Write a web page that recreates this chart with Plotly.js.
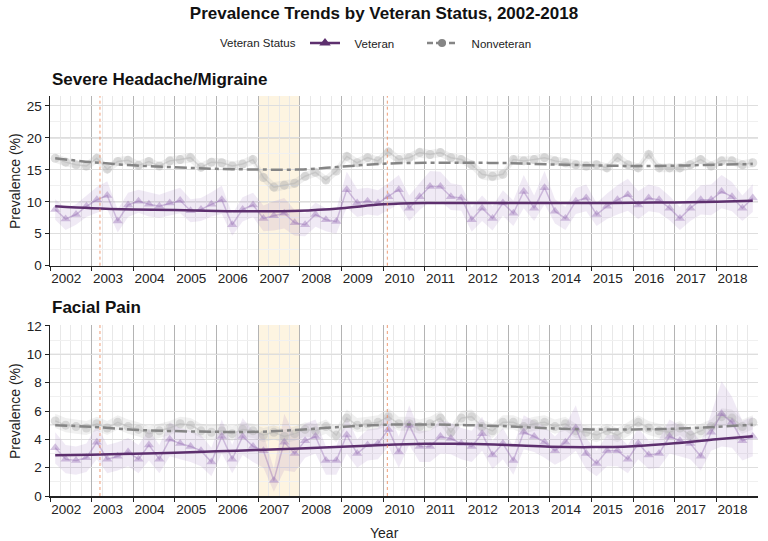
<!DOCTYPE html>
<html>
<head>
<meta charset="utf-8">
<script src="https://cdn.plot.ly/plotly-3.0.1.min.js"></script>
<style>html,body{margin:0;padding:0;background:#fff;}#chart{width:768px;height:541px;}</style>
</head>
<body>
<div id="chart"></div>
<script>
// ---------- DATA ----------
const years = [2002,2003,2004,2005,2006,2007,2008,2009,2010,2011,2012,2013,2014,2015,2016,2017,2018];
const quarterOffsets = [0.125, 0.375, 0.625, 0.875];
const tickYears = years;

// Severe Headache/Migraine
const headVet = [
  8.8,7.3,8.0,9.3,  10.3,11.0,7.0,9.5,  10.1,9.6,9.3,9.8,  10.2,8.6,8.8,9.6,
  10.3,6.4,8.8,9.5,  7.4,7.8,8.2,6.7,  6.4,8.0,7.2,6.9,  11.9,9.8,10.1,9.8,
  10.8,11.9,9.0,10.8,  12.4,12.4,10.8,10.6,  7.2,9.0,7.4,9.8,  8.2,11.6,9.0,12.2,
  8.5,7.4,10.1,10.6,  8.0,9.3,10.3,11.1,  9.5,10.6,10.3,9.0,  7.4,9.0,10.3,10.3,
  11.6,10.8,9.0,10.6];
const headVetHW = [
  1.6,1.7,1.6,1.7, 2.0,2.2,1.8,1.9, 1.8,1.9,1.8,1.9, 2.0,1.8,1.8,1.9,
  2.2,1.7,1.9,1.9, 2.0,2.3,2.4,2.0, 1.8,1.9,1.8,1.9, 2.8,2.2,2.1,2.0,
  2.1,2.3,2.0,2.1, 2.4,2.3,2.1,2.0, 1.9,2.0,1.9,2.0, 2.0,2.6,2.0,2.6,
  1.9,1.8,2.0,2.1, 1.8,2.0,2.3,2.5, 2.2,2.1,2.0,1.9, 1.8,2.0,2.3,2.4,
  2.6,2.3,2.0,2.2];
const headNon = [
  16.8,16.2,15.8,15.6,  16.8,15.1,16.3,16.5,  15.7,16.3,15.6,16.4,  16.6,16.9,15.4,16.2,
  16.1,15.6,15.9,16.6,  13.8,12.3,12.6,12.9,  14.0,14.6,13.4,14.8,  17.1,16.1,16.9,16.4,
  17.8,16.6,16.9,17.7,  17.4,17.7,16.9,16.6,  15.8,14.3,14.0,14.3,  16.6,16.4,16.6,16.9,
  16.4,16.1,15.8,15.6,  15.8,15.3,16.9,15.8,  15.3,17.4,15.3,15.3,  15.3,15.8,16.6,15.6,
  16.4,16.4,15.8,16.1];
const headNonHW = [
  0.7,0.7,0.6,0.7, 0.8,0.7,0.7,0.7, 0.7,0.7,0.6,0.7, 0.7,0.8,0.7,0.7,
  0.7,0.7,0.7,0.8, 0.8,0.8,0.7,0.7, 0.7,0.7,0.7,0.7, 0.8,0.7,0.7,0.7,
  0.8,0.7,0.7,0.8, 0.7,0.7,0.7,0.7, 0.7,0.8,0.8,0.7, 0.7,0.7,0.7,0.7,
  0.7,0.7,0.7,0.7, 0.7,0.7,0.8,0.7, 0.7,0.8,0.7,0.7, 0.7,0.7,0.7,0.7,
  0.7,0.7,0.7,0.7];
const trendX = [2002.125,2003,2004,2005,2006,2007,2008,2009,2010,2011,2012,2013,2014,2015,2016,2017,2018,2018.875];
const headVetTrend = [9.3,9.0,8.8,8.7,8.55,8.5,8.6,9.0,9.6,9.8,9.8,9.8,9.8,9.8,9.85,9.9,10.0,10.15];
const headNonTrend = [16.8,16.2,15.7,15.4,15.15,15.05,15.05,15.5,15.95,16.1,16.1,16.05,15.85,15.7,15.6,15.65,15.8,15.9];

// Facial Pain
const faceVet = [
  3.4,2.6,2.5,2.7,  3.8,2.6,2.8,3.1,  2.6,3.6,2.6,4.0,  3.7,3.5,3.2,2.4,
  4.2,2.6,4.2,3.5,  3.2,1.1,3.8,3.0,  3.9,4.2,2.5,2.5,  4.3,3.0,3.6,3.7,
  4.7,3.1,5.0,3.5,  3.5,4.2,4.05,3.7,  3.5,4.4,2.9,3.7,  2.5,4.5,4.2,3.8,
  3.2,3.8,4.8,3.0,  2.3,3.2,3.2,2.6,  3.7,2.9,3.0,4.2,  3.9,3.7,2.8,4.5,
  5.8,5.2,3.9,4.2];
const faceVetHW = [
  1.1,1.0,1.0,1.0, 1.2,1.0,1.0,1.0, 1.0,1.1,1.0,1.2, 1.1,1.1,1.1,1.0,
  1.2,1.0,1.3,1.1, 1.2,0.8,2.0,1.3, 1.2,1.2,1.0,1.0, 1.3,1.0,1.1,1.1,
  1.2,1.1,1.4,1.1, 1.1,1.2,1.1,1.1, 1.1,1.2,1.0,1.1, 1.0,1.2,1.1,1.1,
  1.0,1.2,1.6,1.1, 0.9,1.1,1.1,1.0, 1.1,1.0,1.0,1.2, 1.1,1.1,1.0,1.3,
  2.3,1.8,1.4,1.4];
const faceNon = [
  5.3,5.0,4.9,4.8,  5.1,4.8,5.2,4.9,  4.7,4.4,4.6,4.8,  5.1,5.0,4.6,4.5,
  4.6,4.4,4.7,4.6,  4.3,4.5,4.2,4.4,  4.7,4.6,4.9,4.3,  5.5,5.0,5.1,5.2,
  5.6,5.1,5.1,4.9,  5.1,5.5,4.5,5.5,  5.6,4.9,4.6,5.2,  5.2,4.9,5.1,5.2,
  4.9,5.1,4.6,4.5,  4.3,4.6,4.3,4.7,  5.2,4.8,4.6,4.5,  4.8,4.3,4.6,4.9,
  5.6,5.5,4.9,5.2];
const faceNonHW = [
  0.5,0.5,0.5,0.5, 0.5,0.5,0.5,0.5, 0.5,0.5,0.5,0.5, 0.5,0.5,0.5,0.5,
  0.5,0.5,0.5,0.5, 0.5,0.5,0.5,0.5, 0.5,0.5,0.5,0.5, 0.6,0.5,0.5,0.5,
  0.6,0.5,0.5,0.5, 0.5,0.5,0.5,0.5, 0.5,0.5,0.5,0.5, 0.5,0.5,0.5,0.5,
  0.5,0.5,0.5,0.5, 0.5,0.5,0.5,0.5, 0.5,0.5,0.5,0.5, 0.5,0.5,0.5,0.5,
  0.6,0.6,0.5,0.5];
const faceVetTrend = [2.88,2.92,2.98,3.05,3.15,3.25,3.35,3.47,3.6,3.68,3.68,3.6,3.48,3.45,3.52,3.72,4.0,4.22];
const faceNonTrend = [5.0,4.88,4.68,4.58,4.53,4.53,4.68,4.88,5.03,5.05,5.0,4.92,4.78,4.7,4.7,4.75,4.88,5.03];

// Reference marks
const shadeStart = [2007], shadeEnd = [2008];
const eventLines = [2003.2, 2010.1];
const headRefLines = [10, 20];
const faceRefLines = [5, 10];

// ---------- BUILD ----------
const xq = [];
years.forEach(y => quarterOffsets.forEach(o => xq.push(y + o)));

const VET = '#5d2f6e', VET_PT = 'rgba(150,110,180,0.4)', VET_BAND = 'rgba(160,125,190,0.16)';
const NON = '#858585', NON_PT = 'rgba(175,175,175,0.4)', NON_BAND = 'rgba(180,180,180,0.2)';
const NONDASH = '12px,4px,4px,4px';

function band(vals, hw, col, xa, ya) {
  const up = vals.map((v,i)=>v+hw[i]);
  const lo = vals.map((v,i)=>Math.max(0, v-hw[i]));
  return {x: xq.concat(xq.slice().reverse()), y: up.concat(lo.slice().reverse()),
    fill:'toself', fillcolor: col, line:{width:0}, mode:'lines', hoverinfo:'skip',
    showlegend:false, xaxis:xa, yaxis:ya};
}
function pts(vals, sym, col, xa, ya) {
  return {x: xq, y: vals, mode:'lines+markers', line:{color:col, width:1.5},
    marker:{symbol:sym, size:9, color:col}, showlegend:false, xaxis:xa, yaxis:ya};
}
function trend(vals, col, dash, xa, ya) {
  return {x: trendX, y: vals, mode:'lines', line:{color:col, width:2.5, dash:dash, shape:'spline', smoothing:1},
    showlegend:false, xaxis:xa, yaxis:ya};
}

const traces = [
  band(headNon, headNonHW, NON_BAND, 'x', 'y'),
  band(headVet, headVetHW, VET_BAND, 'x', 'y'),
  pts(headNon, 'circle', NON_PT, 'x', 'y'),
  pts(headVet, 'triangle-up', VET_PT, 'x', 'y'),
  trend(headNonTrend, NON, NONDASH, 'x', 'y'),
  trend(headVetTrend, VET, 'solid', 'x', 'y'),
  band(faceNon, faceNonHW, NON_BAND, 'x2', 'y2'),
  band(faceVet, faceVetHW, VET_BAND, 'x2', 'y2'),
  pts(faceNon, 'circle', NON_PT, 'x2', 'y2'),
  pts(faceVet, 'triangle-up', VET_PT, 'x2', 'y2'),
  trend(faceNonTrend, NON, NONDASH, 'x2', 'y2'),
  trend(faceVetTrend, VET, 'solid', 'x2', 'y2'),
  // legend entries
  {x:[null], y:[null], name:'   Veteran', mode:'lines+markers', line:{color:VET, width:2.5},
   marker:{symbol:'triangle-up', size:10, color:VET}, xaxis:'x', yaxis:'y'},
  {x:[null], y:[null], name:'   Nonveteran', mode:'lines+markers', line:{color:NON, width:2.5, dash:'6px,3px,10px,3px'},
   marker:{symbol:'circle', size:8, color:NON}, xaxis:'x', yaxis:'y'}
];

const FONT = 'Liberation Sans, Arial, sans-serif';
function xax(anchor) {
  return {anchor: anchor, range:[2002, 2019], tickvals: tickYears, ticktext: tickYears.map(String),
    ticklabelposition:'outside right', ticks:'outside', ticklen:4, tickcolor:'#222',
    showline:true, linecolor:'#222', linewidth:1.5, zeroline:false,
    showgrid:true, gridcolor:'#b4b4b4', gridwidth:1,
    minor:{dtick:0.25, tick0:2002, showgrid:true, gridcolor:'#e8e8e8', gridwidth:1},
    tickfont:{size:13.5, color:'#222', family:FONT}, fixedrange:true};
}
function yax(anchor, range, dtick, domain) {
  return {anchor: anchor, range: range, domain: domain, dtick: dtick, tick0:0,
    ticks:'outside', ticklen:4, tickcolor:'#222', showline:true, linecolor:'#222', linewidth:1.5,
    zeroline:false, showgrid:true, gridcolor:'#dedede', gridwidth:1,
    minor:{dtick: dtick/2, showgrid:true, gridcolor:'#f0f0f0', gridwidth:1},
    tickfont:{size:13.5, color:'#222', family:FONT}, fixedrange:true};
}

const shapes = [];
shadeStart.forEach((s,i)=>{
  ['x','x2'].forEach((xa,k)=>{
    shapes.push({type:'rect', layer:'below', xref:xa, yref:(k?'y2 domain':'y domain'), x0:s, x1:shadeEnd[i], y0:0, y1:1,
      fillcolor:'#fcf1d9', line:{width:0}, opacity:0.8});
  });
});
headRefLines.forEach(v=>shapes.push({type:'line', layer:'below', xref:'x domain', yref:'y', x0:0, x1:1, y0:v, y1:v, line:{color:'#b4b4b4', width:1}}));
faceRefLines.forEach(v=>shapes.push({type:'line', layer:'below', xref:'x2 domain', yref:'y2', x0:0, x1:1, y0:v, y1:v, line:{color:'#b4b4b4', width:1}}));
eventLines.forEach(v=>{
  shapes.push({type:'line', layer:'above', xref:'x', yref:'y domain', x0:v, x1:v, y0:0, y1:1, line:{color:'rgba(236,140,95,0.85)', width:1, dash:'dot'}});
  shapes.push({type:'line', layer:'above', xref:'x2', yref:'y2 domain', x0:v, x1:v, y0:0, y1:1, line:{color:'rgba(236,140,95,0.85)', width:1, dash:'dot'}});
});

const layout = {
  width:768, height:541, margin:{l:50, r:10, t:96, b:45},
  paper_bgcolor:'#fff', plot_bgcolor:'#fff',
  font:{family:FONT, color:'#222'},
  title:{text:'<b>Prevalence Trends by Veteran Status, 2002-2018</b>', font:{size:17, color:'#111', family:FONT},
    x:0.5, xref:'container', xanchor:'center', y:1-13/541, yref:'container', yanchor:'middle'},
  xaxis: xax('y'),
  yaxis: yax('x', [0, 26.55], 5, [0.5758, 1]),
  xaxis2: xax('y2'),
  yaxis2: yax('x2', [0, 12.07], 2, [0, 0.4275]),
  showlegend:true,
  legend:{orientation:'h', xref:'container', yref:'container', x:305/768, xanchor:'left', y:1-43/541, yanchor:'middle',
    font:{size:11.5, color:'#222', family:FONT},
    bgcolor:'rgba(0,0,0,0)', entrywidth:72},
  shapes: shapes,
  annotations:[
    {text:'Veteran Status', xref:'paper', yref:'paper', x:(218-50)/708, y:(496-43)/400, xanchor:'left', yanchor:'middle', showarrow:false, font:{size:11.5, color:'#222'}},
    {text:'<b>Severe Headache/Migraine</b>', xref:'paper', yref:'paper', x:0, y:(496-80)/400, xanchor:'left', yanchor:'middle', showarrow:false, font:{size:17, color:'#111'}},
    {text:'<b>Facial Pain</b>', xref:'paper', yref:'paper', x:0, y:(496-307)/400, xanchor:'left', yanchor:'middle', showarrow:false, font:{size:17, color:'#111'}},
    {text:'Prevalence (%)', xref:'paper', yref:'paper', x:(15-50)/708, y:(496-181)/400, xanchor:'center', yanchor:'middle', textangle:-90, showarrow:false, font:{size:14, color:'#222'}},
    {text:'Prevalence (%)', xref:'paper', yref:'paper', x:(15-50)/708, y:(496-411)/400, xanchor:'center', yanchor:'middle', textangle:-90, showarrow:false, font:{size:14, color:'#222'}},
    {text:'Year', xref:'paper', yref:'paper', x:(384-50)/708, y:(496-533)/400, xanchor:'center', yanchor:'middle', showarrow:false, font:{size:14, color:'#222'}}
  ]
};

Plotly.newPlot('chart', traces, layout, {staticPlot:true, displayModeBar:false});
</script>
</body>
</html>
